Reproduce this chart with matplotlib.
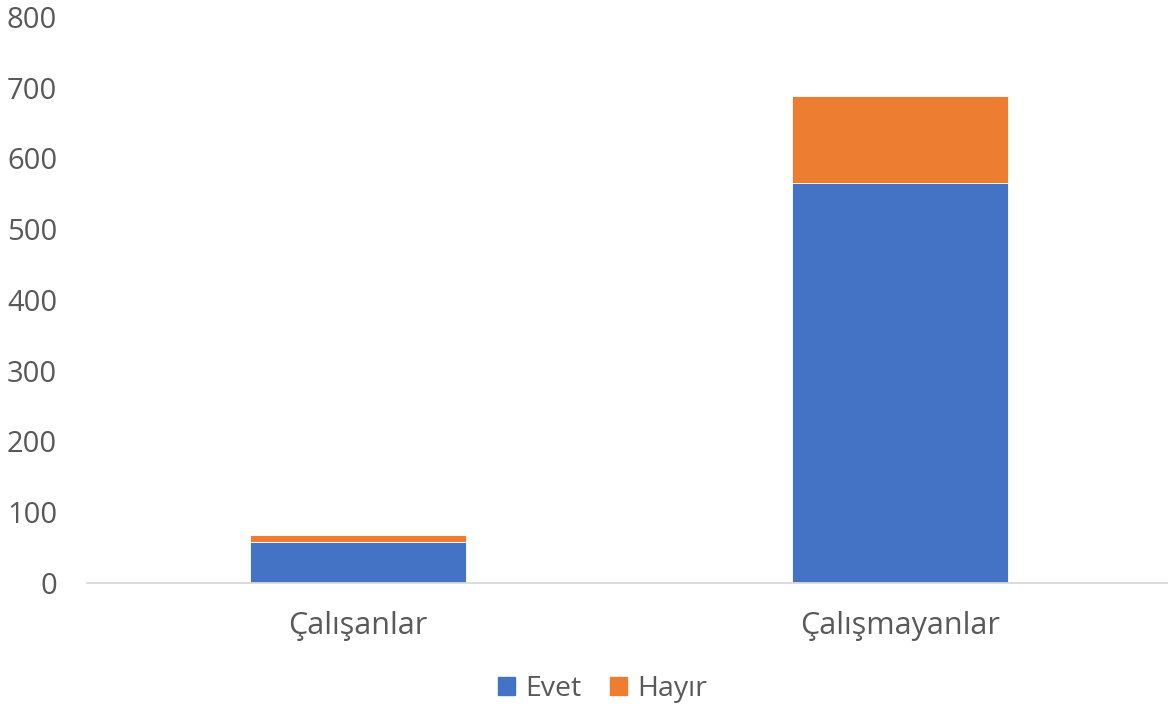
import numpy as np
import matplotlib.pyplot as plt
from matplotlib.patches import Patch

plt.rcParams['font.family'] = ['Open Sans', 'DejaVu Sans']

categories = ['Çalışanlar', 'Çalışmayanlar']
evet = [58, 566]
hayir = [10, 123]
yticks = [0, 100, 200, 300, 400, 500, 600, 700, 800]

blue = '#4472C4'
orange = '#ED7D31'
txt = '#595959'

fig = plt.figure(figsize=(11.68, 7.08), dpi=100)
ax = fig.add_axes([0.0745, 0.1766, 0.928, 0.7994])

x = np.arange(len(categories))
ax.bar(x, evet, width=0.4, color=blue, edgecolor='white', linewidth=0.6, zorder=2)
ax.bar(x, hayir, width=0.4, bottom=evet, color=orange, edgecolor='white', linewidth=0.6, zorder=2)

ax.set_xlim(-0.5, 1.5)
ax.set_ylim(0, 800)
ax.set_yticks(yticks)
ax.set_xticks(x)
ax.set_xticklabels(categories)

for s in ['top', 'right', 'left']:
    ax.spines[s].set_visible(False)
ax.spines['bottom'].set_color('#D9D9D9')
ax.spines['bottom'].set_linewidth(1.3)
ax.tick_params(axis='both', length=0, labelsize=21, colors=txt)
ax.tick_params(axis='x', labelsize=22)
ax.tick_params(axis='y', pad=21.5)
ax.tick_params(axis='x', pad=20)
for lab in ax.get_yticklabels():
    lab.set_horizontalalignment('right')

handles = [Patch(color=blue, label='Evet'), Patch(color=orange, label='Hayır')]
fig.legend(handles=handles, loc='center', bbox_to_anchor=(0.516, 0.027), ncol=2,
           frameon=False, fontsize=20.5, labelcolor=txt, handlelength=0.6,
           handleheight=0.6, handletextpad=0.35, columnspacing=1.0)

fig.savefig('out.png', dpi=100)
